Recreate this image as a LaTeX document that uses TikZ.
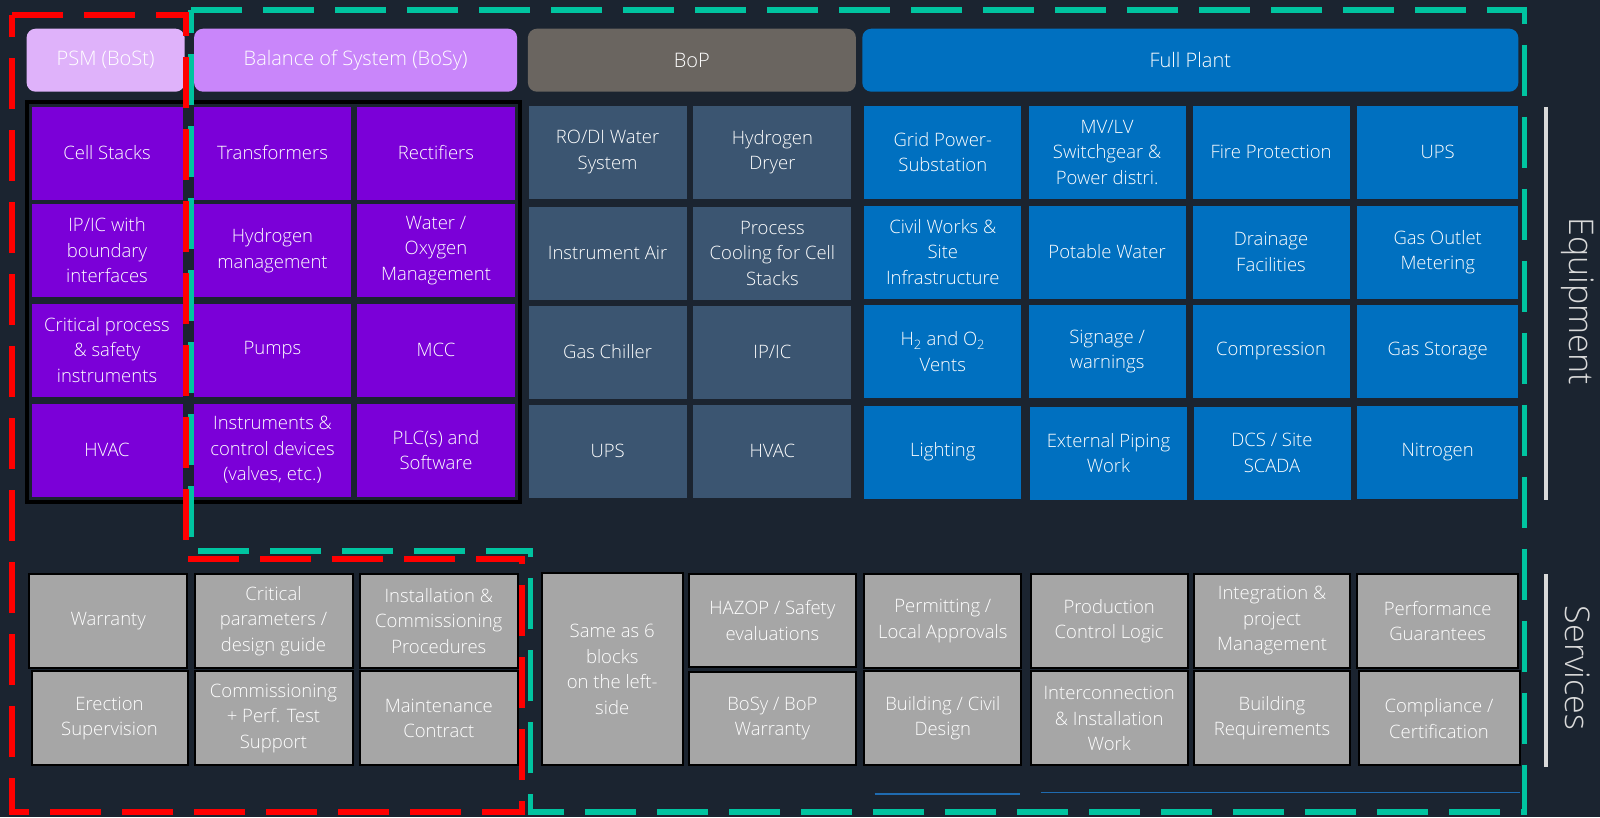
\documentclass[tikz,border=0pt]{standalone}
\usepackage{fontspec}
\IfFontExistsTF{Open Sans Light}{\setmainfont{Open Sans Light}}{\setmainfont{Open Sans}}
\usepackage{tikz}

\definecolor{bgnavy}{HTML}{1B2430}
\definecolor{psmhead}{HTML}{DFB2FA}
\definecolor{bosyhead}{HTML}{C986FA}
\definecolor{bophead}{HTML}{6A6560}
\definecolor{plantblue}{HTML}{0070C0}
\definecolor{purplecell}{HTML}{7B00D8}
\definecolor{bopcell}{HTML}{3B5571}
\definecolor{servgray}{HTML}{A6A6A6}
\definecolor{tealdash}{HTML}{00C4A0}
\definecolor{sidegray}{HTML}{D9D9D9}
\definecolor{linkblue}{HTML}{1F6BB0}

\begin{document}
\begin{tikzpicture}[x=1pt,y=-1pt,
  head/.style={rounded corners=9pt, inner sep=0pt, text=white, minimum height=63pt, font=\fontsize{20}{24}\selectfont},
  cell/.style={inner sep=0pt, text=white, align=center, minimum height=93pt, font=\fontsize{18.5}{25.5}\selectfont},
  psm/.style={cell, fill=purplecell},
  bop/.style={cell, fill=bopcell, minimum width=158pt},
  plant/.style={cell, fill=plantblue, minimum width=157pt},
  serv/.style={cell, fill=servgray, draw=black, line width=2pt, minimum height=94pt},
  side/.style={text=sidegray, font=\fontsize{34}{38}\selectfont, rotate=-90},
  outline/.style={line width=5.5pt, dash pattern=on 51pt off 21pt}]
\useasboundingbox[fill=bgnavy] (0,0) rectangle (1600,817);
%-------->headers<--------------
\node[head, fill=psmhead, minimum width=158pt] (hpsm) at (105.6,60.2) {PSM (BoSt)};
\node[head, fill=bosyhead, minimum width=323pt] (hbosy) at (355.6,60.2) {Balance of System (BoSy)};
\node[head, fill=bophead, minimum width=328pt] (hbop) at (691.9,60.2) {BoP};
\node[head, fill=plantblue, minimum width=656pt] (hplant) at (1190.3,60.2) {Full Plant};
%-------->PSM + BoSy block<--------------
\draw[line width=4pt, black] (26.5,102) rectangle (520.4,502);
\node[psm, minimum width=151pt] (cstack) at (107,153) {Cell Stacks};
\node[psm, minimum width=151pt] (ipicb) at (107,250.5) {IP/IC with\\boundary\\interfaces};
\node[psm, minimum width=151pt] (critp) at (107,350) {Critical process\\\& safety\\instruments};
\node[psm, minimum width=151pt] (hvaca) at (107,450) {HVAC};
\node[psm, minimum width=157pt] (trafo) at (272.5,153) {Transformers};
\node[psm, minimum width=157pt] (htwo) at (272.5,250.5) {Hydrogen\\management};
\node[psm, minimum width=157pt] (pumps) at (272.5,350) {Pumps};
\node[psm, minimum width=157pt] (instr) at (272.5,450) {Instruments \&\\control devices\\(valves, etc.)};
\node[psm, minimum width=158pt] (rect) at (436,153) {Rectifiers};
\node[psm, minimum width=158pt] (water) at (436,250.5) {Water /\\Oxygen\\Management};
\node[psm, minimum width=158pt] (mcc) at (436,350) {MCC};
\node[psm, minimum width=158pt] (plc) at (436,450) {PLC(s) and\\Software};
%-------->BoP<--------------
\node[bop] (rodi) at (607.6,152) {RO/DI Water\\System};
\node[bop] (iair) at (607.6,253) {Instrument Air};
\node[bop] (chill) at (607.6,352) {Gas Chiller};
\node[bop] (upsa) at (607.6,451) {UPS};
\node[bop] (dryer) at (772.4,152) {Hydrogen\\Dryer};
\node[bop] (pcool) at (772.4,253) {Process\\Cooling for Cell\\Stacks};
\node[bop] (ipic) at (772.4,352) {IP/IC};
\node[bop] (hvacb) at (772.4,451) {HVAC};
%-------->Full Plant<--------------
\node[plant] (grid) at (942.8,152) {Grid Power-\\Substation};
\node[plant] (civil) at (942.8,252) {Civil Works \&\\Site\\Infrastructure};
\node[plant] (vents) at (942.8,351.5) {H\textsubscript{2} and O\textsubscript{2}\\Vents};
\node[plant] (light) at (942.8,452) {Lighting};
\node[plant] (mvlv) at (1107.1,152) {MV/LV\\Switchgear \&\\Power distri.};
\node[plant] (potw) at (1107.1,252) {Potable Water};
\node[plant] (sign) at (1107.1,351.5) {Signage /\\warnings};
\node[plant] (pipe) at (1108.5,453) {External Piping\\Work};
\node[plant] (fire) at (1271,152) {Fire Protection};
\node[plant] (drain) at (1271,252) {Drainage\\Facilities};
\node[plant] (compr) at (1271,351.5) {Compression};
\node[plant] (dcs) at (1272,453) {DCS / Site\\SCADA};
\node[plant, minimum width=161pt] (upsb) at (1437.7,152) {UPS};
\node[plant, minimum width=161pt] (meter) at (1437.7,252) {Gas Outlet\\Metering};
\node[plant, minimum width=161pt] (store) at (1437.7,351.5) {Gas Storage};
\node[plant, minimum width=161pt] (nitro) at (1437.7,452) {Nitrogen};
%-------->services<--------------
\node[serv, minimum width=158pt] (warr) at (108.2,621) {Warranty};
\node[serv, minimum width=158pt] (param) at (273.5,621) {Critical\\parameters /\\design guide};
\node[serv, minimum width=158pt] (inproc) at (438.8,621) {Installation \&\\Commissioning\\Procedures};
\node[serv, minimum width=156pt] (erect) at (109.5,718.4) {Erection\\Supervision};
\node[serv, minimum width=158pt] (perf) at (273.5,718.4) {Commissioning\\+ Perf. Test\\Support};
\node[serv, minimum width=158pt] (maint) at (438.8,718.4) {Maintenance\\Contract};
\node[serv, minimum width=141pt, minimum height=192pt] (same) at (612.2,669.4) {Same as 6\\blocks\\on the left-\\side};
\node[serv, minimum width=167pt, minimum height=93pt] (hazop) at (772.4,620.5) {HAZOP / Safety\\evaluations};
\node[serv, minimum width=167pt, minimum height=93pt] (bwarr) at (772.4,718.4) {BoSy / BoP\\Warranty};
\node[serv, minimum width=157pt] (permit) at (942.8,621) {Permitting /\\Local Approvals};
\node[serv, minimum width=157pt] (bciv) at (942.8,718.4) {Building / Civil\\Design};
\node[serv, minimum width=157pt] (prodc) at (1109.2,621) {Production\\Control Logic};
\node[serv, minimum width=157pt] (intcon) at (1109.2,718.4) {Interconnection\\\& Installation\\Work};
\node[serv, minimum width=156pt] (integ) at (1272,621) {Integration \&\\project\\Management};
\node[serv, minimum width=156pt] (breq) at (1272,718.4) {Building\\Requirements};
\node[serv, minimum width=161pt] (guar) at (1437.7,621) {Performance\\Guarantees};
\node[serv, minimum width=161pt] (cert) at (1439,718.4) {Compliance /\\Certification};
%-------->thin blue rules under the services<--------------
\draw[linkblue, line width=1.5pt] (874.5,794) -- (1020.4,794);
\draw[linkblue, line width=1.5pt] (1040.8,792.5) -- (1520,792.5);
%-------->side labels<--------------
\draw[sidegray, line width=4pt] (1546,107) -- (1546,500);
\node[side] (equip) at (1578,301) {Equipment};
\draw[sidegray, line width=4pt] (1546,574) -- (1546,767);
\node[side] (servl) at (1578,668) {Services};
%-------->dashed scopes<--------------
\draw[outline, tealdash] (191,10) -- (1524.5,10) -- (1524.5,812) -- (530.6,812) -- (530.6,551) -- (191,551) -- cycle;
\draw[outline, red] (12,15) -- (186,15) -- (186,559) -- (522,559) -- (522,812) -- (12,812) -- cycle;
\end{tikzpicture}
\end{document}
